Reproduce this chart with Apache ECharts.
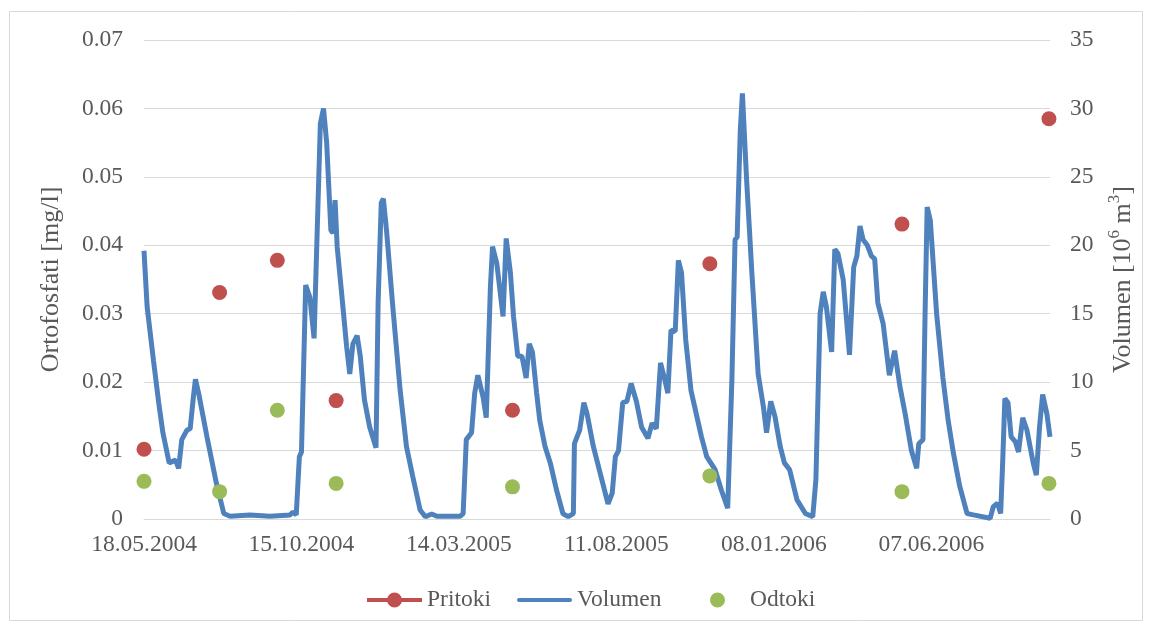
<!DOCTYPE html>
<html>
<head>
<meta charset="utf-8">
<script src="https://cdn.jsdelivr.net/npm/echarts@6/dist/echarts.min.js"></script>
<style>
html,body{margin:0;padding:0;background:#fff;}
#chart{width:1152px;height:628px;}
</style>
</head>
<body>
<div id="chart"></div>
<script>
// x values are days after 18.05.2004
const startDate = [2004, 4, 18];
const axisMaxDay = 863;
const tickIntervalDays = 150;

const sampleDays = [0, 72, 127, 183, 351, 539, 722, 862];
const pritoki = [0.0102, 0.0331, 0.0378, 0.0173, 0.0159, 0.0373, 0.0431, 0.0585];
const odtoki  = [0.0055, 0.0040, 0.0159, 0.0052, 0.0047, 0.0063, 0.0040, 0.0052];

const volumeDays = [0,3,9,14,18,24,30,33,36,41,44,47,49,52,60,69,76,82,101,120,139,142,145,148,150,154,158,162,165,168,171,174,178,180,182,184,188,193,196,199,203,206,210,215,221,223,226,228,231,237,244,250,256,263,268,274,279,301,304,307,312,315,318,323,326,330,332,336,342,345,349,352,356,360,364,367,370,374,377,382,387,393,399,404,409,410,415,419,422,428,437,442,446,449,452,456,460,464,469,474,480,484,488,492,496,499,502,506,509,512,516,521,526,531,536,544,550,556,560,563,565,568,570,574,579,585,590,593,597,601,606,610,615,622,630,637,640,644,647,650,655,658,661,666,672,676,679,682,685,689,693,696,699,704,710,715,720,725,731,736,738,742,744,746,749,755,761,766,771,777,784,790,806,809,813,816,818,820,823,826,830,833,837,841,847,850,853,856,860,863];
const volumen = [19.6,15.5,11.6,8.5,6.3,4.1,4.3,3.7,5.8,6.5,6.6,8.9,10.2,9.2,6.0,2.6,0.4,0.2,0.3,0.2,0.3,0.5,0.3,4.55,4.9,17.1,16.2,13.2,21.1,28.9,30.0,27.5,21.1,20.9,23.3,19.9,16.7,12.6,10.6,12.8,13.4,11.9,8.7,6.7,5.2,15.8,23.1,23.4,21.1,15.5,9.4,5.3,3.1,0.66,0.17,0.37,0.2,0.2,0.4,5.8,6.3,9.2,10.5,8.9,7.4,17.0,19.9,18.7,14.8,20.5,18.0,14.8,11.9,11.9,10.3,12.8,12.2,9.2,7.2,5.3,4.1,2.1,0.4,0.17,0.4,5.5,6.5,8.5,7.7,5.3,2.6,1.1,1.9,4.55,5.0,8.5,8.6,9.9,8.6,6.7,5.9,7.0,6.6,11.4,10.2,9.2,13.8,13.7,18.9,18.0,13.1,9.4,7.7,6.0,4.55,3.6,2.1,0.8,10.2,20.4,20.6,28.4,31.1,24.8,18.0,10.6,8.2,6.3,8.6,7.5,5.3,4.1,3.6,1.4,0.4,0.17,2.85,15.0,16.6,15.5,12.2,19.7,19.4,17.5,12.0,18.4,19.2,21.4,20.4,20.0,19.2,19.0,15.8,14.3,10.5,12.3,9.7,7.7,5.0,3.7,5.5,5.8,15.0,22.8,21.8,15.0,10.3,7.2,4.8,2.4,0.4,0.3,0.05,0.9,1.15,0.4,4.3,8.8,8.5,6.0,5.65,4.9,7.4,6.5,4.1,3.2,6.7,9.1,7.7,6.0];

const leftTitle = 'Ortofosfati [mg/l]';

function dayLabel(d) {
  const dt = new Date(Date.UTC(startDate[0], startDate[1], startDate[2] + Math.round(d)));
  const dd = String(dt.getUTCDate()).padStart(2, '0');
  const mm = String(dt.getUTCMonth() + 1).padStart(2, '0');
  return dd + '.' + mm + '.' + dt.getUTCFullYear();
}

const FONT = '"Liberation Serif", "Times New Roman", serif';
const TXT = '#595959';
const FS = 23.5;
const TFS = 26;

function legendAt(name, left, icon) {
  return {
    bottom: 16, left: left, padding: 0,
    itemWidth: 55, itemHeight: 15,
    selectedMode: false,
    textStyle: {fontFamily: FONT, fontSize: FS, color: TXT},
    data: [{name: name, icon: icon}]
  };
}

const chart = echarts.init(document.getElementById('chart'), null, {renderer: 'canvas'});
chart.setOption({
  animation: false,
  backgroundColor: '#ffffff',
  textStyle: {fontFamily: FONT},
  graphic: [{
    type: 'rect', silent: true, z: -10,
    shape: {x: 9.5, y: 11.5, width: 1133, height: 609},
    style: {fill: 'none', stroke: '#d9d9d9', lineWidth: 1}
  }],
  grid: {left: 144, right: 102, top: 40, bottom: 109, containLabel: false},
  legend: [
    legendAt('Pritoki', 367, 'path://M0,5.5h55v4h-55z M20,7.5a7.5,7.5 0 1,1 15,0a7.5,7.5 0 1,1 -15,0z'),
    legendAt('Volumen', 517, 'path://M2,0h51a2,2 0 0,1 0,4h-51a2,2 0 0,1 0,-4z'),
    legendAt('Odtoki', 690, 'path://M0,7.5h0.05v0.05h-0.05z M54.95,7.5h0.05v0.05h-0.05z M20,7.5a7.5,7.5 0 1,1 15,0a7.5,7.5 0 1,1 -15,0z')
  ],
  xAxis: {
    type: 'value', min: 0, max: axisMaxDay, interval: tickIntervalDays,
    axisLine: {show: true, lineStyle: {color: '#d9d9d9', width: 1}},
    axisTick: {show: false},
    splitLine: {show: false},
    axisLabel: {
      showMaxLabel: false, margin: 14,
      fontFamily: FONT, fontSize: FS, color: TXT,
      formatter: v => dayLabel(v)
    }
  },
  yAxis: [{
    type: 'value', min: 0, max: 0.07, interval: 0.01, position: 'left',
    name: leftTitle, nameLocation: 'middle', nameRotate: 90, nameGap: 80,
    nameTextStyle: {fontFamily: FONT, fontSize: TFS, color: TXT},
    axisLine: {show: false}, axisTick: {show: false},
    splitLine: {show: true, lineStyle: {color: '#d9d9d9', width: 1}},
    axisLabel: {
      margin: 21, fontFamily: FONT, fontSize: FS, color: TXT,
      formatter: v => (v === 0 ? '0' : v.toFixed(2))
    }
  }, {
    type: 'value', min: 0, max: 35, interval: 5, position: 'right',
    name: '{a|Volumen [10}{s|6}{a| m}{s|3}{a|]}',
    nameLocation: 'middle', nameRotate: 90, nameGap: 56,
    nameTextStyle: {
      fontFamily: FONT, fontSize: TFS, color: TXT,
      rich: {
        a: {fontFamily: FONT, fontSize: TFS, color: TXT, lineHeight: 30, verticalAlign: 'bottom'},
        s: {fontFamily: FONT, fontSize: 17, color: TXT, lineHeight: 30, verticalAlign: 'top'}
      }
    },
    axisLine: {show: false}, axisTick: {show: false},
    splitLine: {show: false},
    axisLabel: {margin: 20, fontFamily: FONT, fontSize: FS, color: TXT}
  }],
  series: [{
    name: 'Volumen', type: 'line', yAxisIndex: 1, z: 2,
    data: volumeDays.map((d, i) => [d, volumen[i]]),
    showSymbol: false, symbol: 'none',
    lineStyle: {color: '#4f81bd', width: 5},
    itemStyle: {color: '#4f81bd'}
  }, {
    name: 'Pritoki', type: 'scatter', yAxisIndex: 0, z: 3,
    data: sampleDays.map((d, i) => [d, pritoki[i]]),
    symbol: 'circle', symbolSize: 15,
    itemStyle: {color: '#c0504d', opacity: 1}
  }, {
    name: 'Odtoki', type: 'scatter', yAxisIndex: 0, z: 3,
    data: sampleDays.map((d, i) => [d, odtoki[i]]),
    symbol: 'circle', symbolSize: 15,
    itemStyle: {color: '#9bbb59', opacity: 1}
  }]
});
</script>
</body>
</html>
